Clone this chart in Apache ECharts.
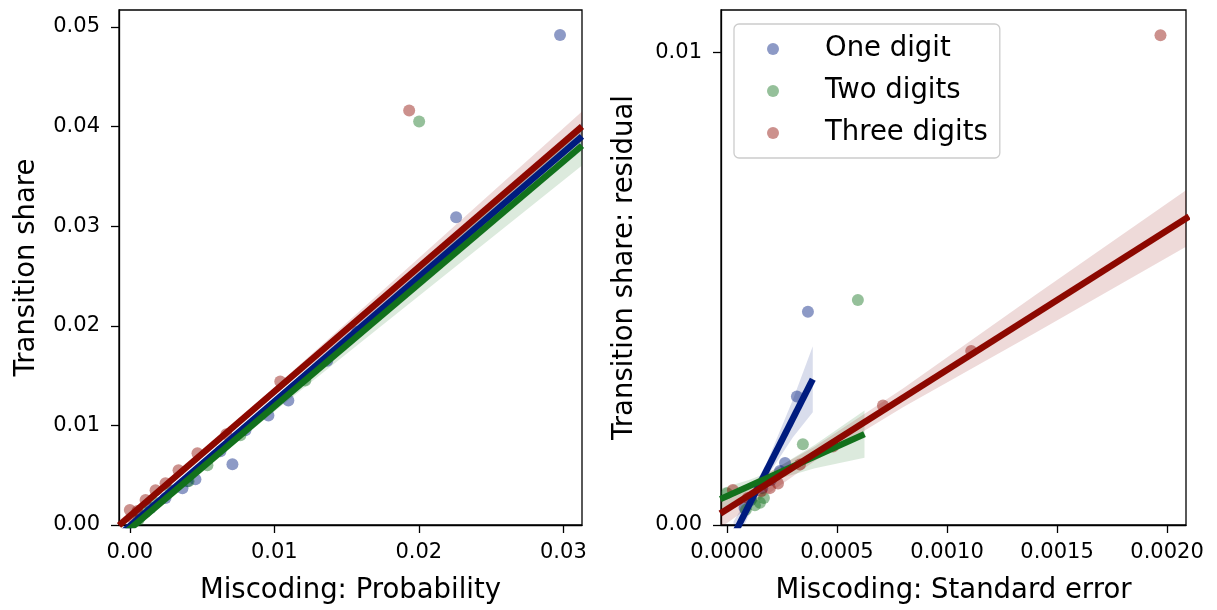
<!DOCTYPE html>
<html>
<head>
<meta charset="utf-8">
<script src="https://cdn.jsdelivr.net/npm/echarts@6/dist/echarts.min.js"></script>
<style>
html,body{margin:0;padding:0;background:#fff;}
#chart{width:1217px;height:610px;}
</style>
</head>
<body>
<div id="chart"></div>
<script>
// ---------- categories & colours ----------
const groupNames = ['One digit', 'Two digits', 'Three digits'];
const groupColors = ['#001c7f', '#12711c', '#8c0800'];

// ---------- left panel: Miscoding probability vs transition share ----------
const probOneX = [0.02977, 0.02258, 0.01574, 0.01366, 0.01097, 0.00959, 0.00800, 0.00710, 0.00627, 0.00454, 0.00399, 0.00364, 0.00247, 0.00143, 0.00074];
const probOneY = [0.0492, 0.0309, 0.0194, 0.0165, 0.0125, 0.0110, 0.0095, 0.0061, 0.0074, 0.0046, 0.0044, 0.0037, 0.0027, 0.0017, 0.0009];
const probTwoX = [0.02002, 0.01214, 0.00765, 0.00537, 0.00406, 0.00281, 0.00178, 0.00109, 0.0006];
const probTwoY = [0.0405, 0.0145, 0.0090, 0.0060, 0.0044, 0.0035, 0.0022, 0.0013, 0.0005];
const probThreeX = [0.01933, 0.01041, 0.00668, 0.00468, 0.00337, 0.00247, 0.00178, 0.00109, 0.00053, 0.0000, 0.0002];
const probThreeY = [0.0416, 0.0144, 0.0091, 0.0072, 0.0055, 0.0042, 0.0035, 0.0025, 0.0014, 0.0015, 0.0007];

// fitted lines (slope, intercept), per group
const probFitSlope = [1.25, 1.23, 1.25];
const probFitIntercept = [-0.0001, -0.0004, 0.0009];
const probFitRange = [[-0.00075, 0.03129], [-0.00075, 0.03129], [-0.00075, 0.03129]];
// confidence band half-widths at sample x positions
const probBandX = [-0.00075, 0.005, 0.01, 0.02, 0.03129];
const probBandHalf = [
  [0.0004, 0.00025, 0.0003, 0.0008, 0.0014],
  [0.0005, 0.0003, 0.0005, 0.0012, 0.0020],
  [0.0005, 0.0003, 0.0004, 0.0009, 0.0015]
];

// ---------- right panel: Miscoding standard error vs residual ----------
const seOneX = [0.000368, 0.000318, 0.000264, 0.000241, 0.0002, 0.000109, 0.00016, 0.00008];
const seOneY = [0.00451, 0.00272, 0.00131, 0.00114, 0.00095, 0.00053, 0.00078, 0.00036];
const seTwoX = [0.000595, 0.000345, 0.000168, 0.000127, 0.000086, 0.0000, 0.00015];
const seTwoY = [0.00476, 0.00171, 0.00057, 0.00042, 0.00032, 0.00067, 0.00047];
const seThreeX = [0.00197, 0.00111, 0.000709, 0.000482, 0.000332, 0.000232, 0.000195, 0.000155, 0.000095, 0.000027];
const seThreeY = [0.01036, 0.00368, 0.00253, 0.00166, 0.00128, 0.00088, 0.00078, 0.00072, 0.00057, 0.00074];

const seFitSlope = [9.19, 2.10, 2.95];
const seFitIntercept = [-0.0005, 0.00061, 0.00033];
const seFitRange = [[0.00003, 0.00039], [-0.00003, 0.000625], [-0.00003, 0.0021]];
const seBandX = [
  [0.00003, 0.0001, 0.00018, 0.0003, 0.00039],
  [-0.00003, 0.0001, 0.0002, 0.0004, 0.000625],
  [-0.00003, 0.0004, 0.0008, 0.0014, 0.0021]
];
const seBandHalf = [
  [0.0003, 0.0002, 0.00015, 0.0004, 0.0007],
  [0.00022, 0.00013, 0.0001, 0.00025, 0.0005],
  [0.0003, 0.00015, 0.0002, 0.0004, 0.0006]
];

// ---------- tick labels ----------
const probTicksX = [0, 0.01, 0.02, 0.03];
const probTicksY = [0, 0.01, 0.02, 0.03, 0.04, 0.05];
const seTicksX = [0, 0.0005, 0.001, 0.0015, 0.002];
const seTicksY = [0, 0.01];

// ---------- build ----------
function hexA(hex, a) {
  const n = parseInt(hex.slice(1), 16);
  return 'rgba(' + (n >> 16 & 255) + ',' + (n >> 8 & 255) + ',' + (n & 255) + ',' + a + ')';
}
function pairs(xs, ys) { return xs.map((x, i) => [x, ys[i]]); }

const FONT = 'DejaVu Sans';
const tickFont = 21;
const titleFont = 27.5;

function valueAxis(opts) {
  return Object.assign({
    type: 'value',
    scale: false,
    splitLine: { show: false },
    axisLine: { show: true, onZero: false, lineStyle: { color: '#000', width: 1.3 } },
    nameLocation: 'middle',
    nameTextStyle: { fontFamily: FONT, fontSize: titleFont, color: '#000' }
  }, opts);
}

const series = [];
const scatterX = [[probOneX, probTwoX, probThreeX], [seOneX, seTwoX, seThreeX]];
const scatterY = [[probOneY, probTwoY, probThreeY], [seOneY, seTwoY, seThreeY]];
const fitSlope = [probFitSlope, seFitSlope];
const fitIntercept = [probFitIntercept, seFitIntercept];
const fitRange = [probFitRange, seFitRange];

for (let p = 0; p < 2; p++) {
  for (let g = 0; g < 3; g++) {
    const col = groupColors[g];
    series.push({
      name: groupNames[g],
      type: 'scatter',
      xAxisIndex: p, yAxisIndex: p,
      symbolSize: 12,
      itemStyle: { color: hexA(col, 0.56) },
      data: pairs(scatterX[p][g], scatterY[p][g]),
      silent: true
    });
    // confidence band as polygon: upper edge forward, lower edge backward
    const bx = p === 0 ? probBandX : seBandX[g];
    const bh = p === 0 ? probBandHalf[g] : seBandHalf[g];
    const s = fitSlope[p][g], b = fitIntercept[p][g];
    const bandData = bx.map((x, i) => [x, s * x + b + bh[i], s * x + b - bh[i]]);
    series.push({
      name: 'band-' + p + g, type: 'custom', xAxisIndex: p, yAxisIndex: p,
      data: [0], silent: true, clip: true,
      renderItem: function (params, api) {
        const up = bandData.map(d => api.coord([d[0], d[1]]));
        const lo = bandData.map(d => api.coord([d[0], d[2]])).reverse();
        const cs = params.coordSys;
        return {
          type: 'polygon',
          shape: { points: up.concat(lo) },
          style: { fill: hexA(col, 0.15) },
          clipPath: { type: 'rect', shape: { x: cs.x, y: cs.y, width: cs.width, height: cs.height } }
        };
      }
    });
    // fitted line
    const r = fitRange[p][g];
    series.push({
      name: 'fit-' + p + g, type: 'line', xAxisIndex: p, yAxisIndex: p,
      data: [[r[0], s * r[0] + b], [r[1], s * r[1] + b]],
      symbol: 'none', lineStyle: { color: col, width: 6.5, cap: 'butt' },
      silent: true, clip: true
    });
  }
}

const tickStyle = { color: '#000', width: 1.3 };
const option = {
  animation: false,
  backgroundColor: '#fff',
  textStyle: { fontFamily: FONT },
  grid: [
    { left: 119, right: 635, top: 10, bottom: 83, show: true, borderColor: '#000', borderWidth: 1.3, backgroundColor: 'transparent' },
    { left: 721, right: 31, top: 10, bottom: 83, show: true, borderColor: '#000', borderWidth: 1.3, backgroundColor: 'transparent' }
  ],
  xAxis: [
    valueAxis({
      gridIndex: 0, min: -0.00075, max: 0.03129,
      name: 'Miscoding: Probability', nameGap: 52,
      axisTick: { show: true, length: 8, lineStyle: tickStyle, customValues: probTicksX },
      axisLabel: { customValues: probTicksX, formatter: v => v.toFixed(2), fontFamily: FONT, fontSize: tickFont, color: '#000', margin: 17 }
    }),
    valueAxis({
      gridIndex: 1, min: -0.000027, max: 0.002086,
      name: 'Miscoding: Standard error', nameGap: 52,
      axisTick: { show: true, length: 8, lineStyle: tickStyle, customValues: seTicksX },
      axisLabel: { customValues: seTicksX, formatter: v => v.toFixed(4), fontFamily: FONT, fontSize: tickFont, color: '#000', margin: 17 }
    })
  ],
  yAxis: [
    valueAxis({
      gridIndex: 0, min: 0, max: 0.0517,
      name: 'Transition share', nameGap: 78, nameRotate: 90,
      axisTick: { show: true, length: 8, lineStyle: tickStyle, customValues: probTicksY },
      axisLabel: { customValues: probTicksY, formatter: v => v.toFixed(2), fontFamily: FONT, fontSize: tickFont, color: '#000', margin: 19 }
    }),
    valueAxis({
      gridIndex: 1, min: 0, max: 0.010895,
      name: 'Transition share: residual', nameGap: 82, nameRotate: 90,
      axisTick: { show: true, length: 8, lineStyle: tickStyle, customValues: seTicksY },
      axisLabel: { customValues: seTicksY, formatter: v => v.toFixed(2), fontFamily: FONT, fontSize: tickFont, color: '#000', margin: 19 }
    })
  ],
  legend: {
    data: groupNames,
    orient: 'vertical',
    left: 734, top: 24,
    padding: [10, 12, 10, 33],
    itemWidth: 12, itemHeight: 12,
    itemGap: 12,
    icon: 'circle',
    backgroundColor: 'rgba(255,255,255,0.8)',
    borderColor: '#cccccc', borderWidth: 1.3, borderRadius: 5,
    textStyle: { fontFamily: FONT, fontSize: 27.5, color: '#000', lineHeight: 30, padding: [0, 0, 0, 41] },
    selectedMode: false
  },
  series: series
};

const chart = echarts.init(document.getElementById('chart'), null, { renderer: 'canvas' });
chart.setOption(option);
</script>
</body>
</html>
